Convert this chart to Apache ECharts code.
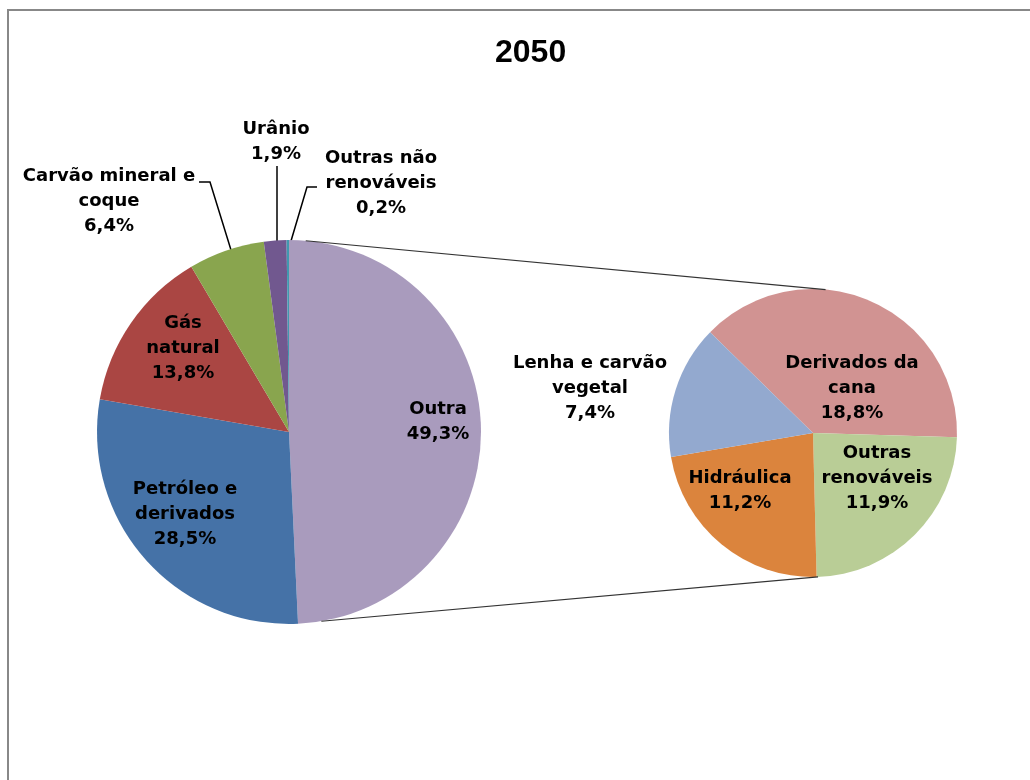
<!DOCTYPE html>
<html><head><meta charset="utf-8">
<script src="https://cdn.jsdelivr.net/npm/echarts@6/dist/echarts.min.js"></script>
<style>html,body{margin:0;padding:0;background:#fff}#c{width:1030px;height:780px}</style>
</head><body><div id="c"></div>
<script>
// ---- data ----
const titleText = '2050';
const mainNames = ['Outra', 'Petróleo e\nderivados', 'Gás\nnatural', 'Carvão mineral e\ncoque', 'Urânio', 'Outras não\nrenováveis'];
const mainValues = [49.3, 28.5, 13.8, 6.4, 1.9, 0.2];
const subNames = ['Derivados da\ncana', 'Outras\nrenováveis', 'Hidráulica', 'Lenha e carvão\nvegetal'];
const subValues = [18.8, 11.9, 11.2, 7.4];

// ---- styles / layout ----
const mainColors = ['#A99BBD', '#4572A7', '#AA4643', '#89A54E', '#71588F', '#4198AF'];
const subColors = ['#D19392', '#B9CD96', '#DB843D', '#93A9CF'];
const mainCenter = [289, 432], mainR = 192;
const subCenter = [813, 433], subR = 144;
const subStart = 135.6;
const mainLabelPos = [[438, 422], [185, 514], [183, 348], [109, 201], [276, 142], [381, 183]];
const mainOutside = [false, false, false, true, true, true];
const mainLeader = {
  3: [[231, 250], [210, 182], [199, 182]],
  4: [[277, 241], [277, 200], [277, 166]],
  5: [[291, 241], [307, 187], [317, 187]]
};
const subLabelPos = [[852, 388], [877, 478], [740, 491], [590, 388]];
const FONT = 'DejaVu Sans';

function fmt(v) { return v.toFixed(1).replace('.', ',') + '%'; }

const labelBase = {
  color: '#000', fontFamily: FONT, fontWeight: 'bold', fontSize: 18, lineHeight: 25,
  align: 'center', formatter: p => p.name + '\n' + fmt(p.value)
};

const mainData = mainValues.map((v, i) => ({
  value: v, name: mainNames[i],
  itemStyle: { color: mainColors[i] },
  label: { position: mainOutside[i] ? 'outside' : 'inside' },
  labelLine: { show: mainOutside[i], lineStyle: { color: '#000', width: 1.5 } }
}));
const subData = subValues.map((v, i) => ({
  value: v, name: subNames[i],
  itemStyle: { color: subColors[i] }
}));

// connector lines computed from pie geometry
function pt(c, r, degCw) {
  const a = degCw * Math.PI / 180;
  return [c[0] + r * Math.sin(a), c[1] - r * Math.cos(a)];
}
const mainTotal = mainValues.reduce((a, b) => a + b, 0);
const outraSpan = 360 * mainValues[0] / mainTotal;
const p1 = pt(mainCenter, mainR, 5), p2 = pt(subCenter, subR, 5);
const p3 = pt(mainCenter, mainR, outraSpan - 7), p4 = pt(subCenter, subR, 178);

const chart = echarts.init(document.getElementById('c'), null, { renderer: 'canvas' });
chart.setOption({
  backgroundColor: '#fff',
  animation: false,
  title: {
    text: titleText, left: 490, top: 32,
    textStyle: { fontFamily: 'Liberation Sans', fontWeight: 'bold', fontSize: 32, color: '#000' }
  },
  graphic: [
    { type: 'rect', shape: { x: 8, y: 10, width: 1200, height: 1000 }, style: { fill: 'none', stroke: '#888', lineWidth: 2 }, z: 10 },
    { type: 'line', shape: { x1: p1[0], y1: p1[1], x2: p2[0], y2: p2[1] }, style: { stroke: '#333', lineWidth: 1.2 }, z: 10 },
    { type: 'line', shape: { x1: p3[0], y1: p3[1], x2: p4[0], y2: p4[1] }, style: { stroke: '#333', lineWidth: 1.2 }, z: 10 }
  ],
  series: [
    {
      type: 'pie', center: mainCenter, radius: mainR, startAngle: 90, clockwise: true,
      avoidLabelOverlap: false, silent: true,
      itemStyle: { borderWidth: 0 },
      label: labelBase,
      labelLayout: p => {
        const q = mainLabelPos[p.dataIndex];
        const o = { x: q[0], y: q[1], align: 'center', verticalAlign: 'middle' };
        if (mainLeader[p.dataIndex]) o.labelLinePoints = mainLeader[p.dataIndex];
        return o;
      },
      data: mainData
    },
    {
      type: 'pie', center: subCenter, radius: subR, startAngle: subStart, clockwise: true,
      avoidLabelOverlap: false, silent: true,
      itemStyle: { borderWidth: 0 },
      label: Object.assign({}, labelBase, { position: 'inside' }),
      labelLine: { show: false },
      labelLayout: p => {
        const q = subLabelPos[p.dataIndex];
        return { x: q[0], y: q[1], align: 'center', verticalAlign: 'middle' };
      },
      data: subData
    }
  ]
});
</script></body></html>
